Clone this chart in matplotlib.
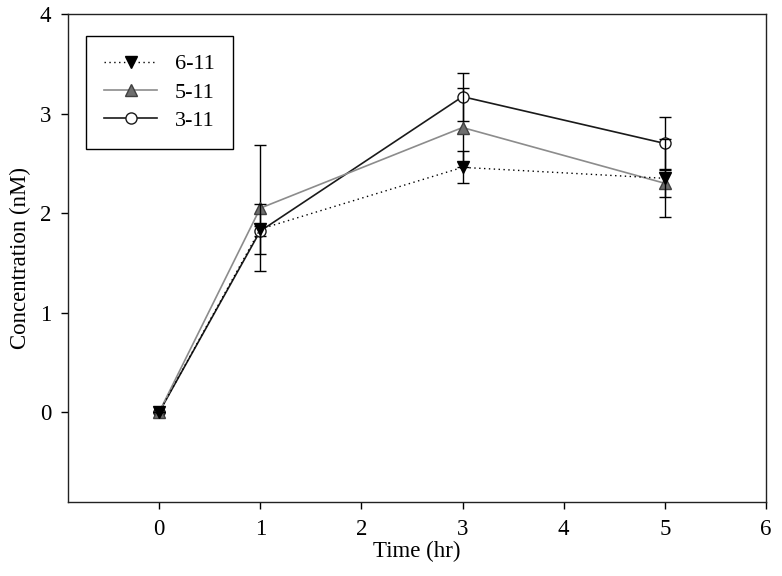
import matplotlib
matplotlib.use("Agg")
import matplotlib.pyplot as plt

plt.rcParams['font.family'] = ['Liberation Serif', 'DejaVu Serif']

time = [0, 1, 3, 5]
s611 = [0, 1.84, 2.46, 2.35]
e611 = [0, 0.25, 0.16, 0.39]
s511 = [0, 2.05, 2.86, 2.30]
e511 = [0, 0.63, 0.40, 0.14]
s311 = [0, 1.82, 3.17, 2.70]
e311 = [0, 0.05, 0.24, 0.27]

fig = plt.figure(figsize=(7.82, 5.76), dpi=100)
ax = fig.add_axes([68/782, (576-502)/576, 698/782, 488/576])

common = dict(ecolor='black', elinewidth=1.0, capsize=4.3, capthick=1.0)
h3 = ax.errorbar(time, s311, yerr=e311, color='#1a1a1a', linestyle='-', linewidth=1.2,
                 marker='o', markersize=8, markerfacecolor='white', markeredgecolor='#1a1a1a',
                 zorder=3, **common)
h2 = ax.errorbar(time, s511, yerr=e511, color='#8c8c8c', linestyle='-', linewidth=1.2,
                 marker='^', markersize=8, markerfacecolor='#6e6e6e', markeredgecolor='#404040',
                 zorder=3.1, **common)
h1 = ax.errorbar(time, s611, yerr=e611, color='black', linestyle=(0, (1, 2.5)), linewidth=1.0,
                 marker='v', markersize=8, markerfacecolor='black', markeredgecolor='black',
                 zorder=3.2, **common)

ax.set_xlim(-0.9, 6)
ax.set_ylim(-0.9, 4)
ax.set_xticks([0, 1, 2, 3, 4, 5, 6])
ax.set_yticks([0, 1, 2, 3, 4])
ax.tick_params(direction='out', length=5, width=1, labelsize=16.5, pad=7,
               top=False, right=False)
for sp in ax.spines.values():
    sp.set_linewidth(1.0)
    sp.set_color('#222222')

ax.set_xlabel('Time (hr)', fontsize=16.5, labelpad=1)
ax.set_ylabel('Concentration (nM)', fontsize=16.5, labelpad=6)

leg = ax.legend([h1[0], h2[0], h3[0]], ['6-11', '5-11', '3-11'],
                loc='upper left', bbox_to_anchor=(0.026, 0.955), fontsize=16,
                frameon=True, fancybox=False, edgecolor='black', framealpha=1,
                handlelength=2.4, borderpad=0.8, labelspacing=0.35, borderaxespad=0)
leg.get_frame().set_linewidth(1.0)

fig.savefig('out.png', dpi=100)
